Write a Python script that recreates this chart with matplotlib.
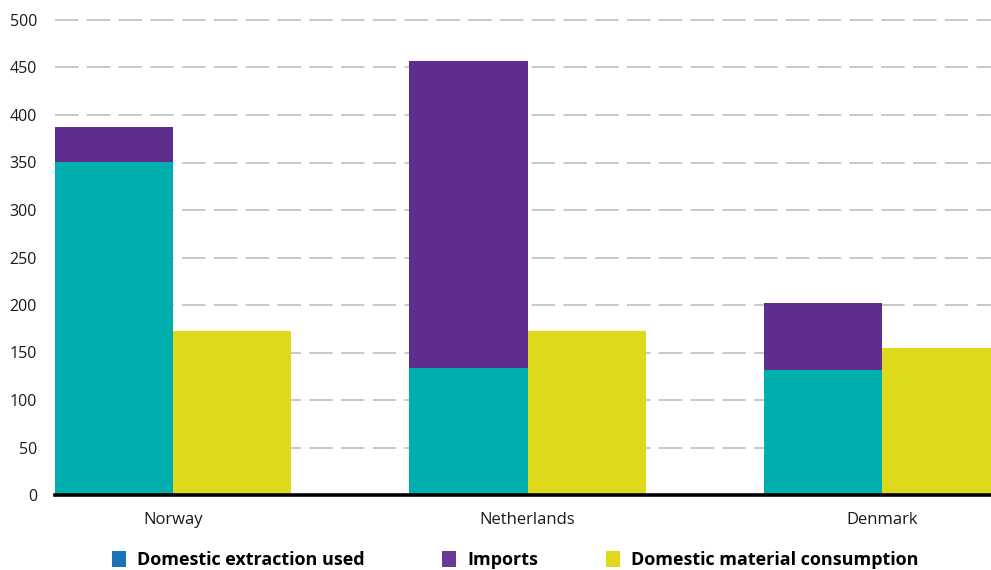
import matplotlib
matplotlib.use("Agg")
import matplotlib.pyplot as plt
from matplotlib.patches import Patch
import numpy as np

countries = ["Norway", "Netherlands", "Denmark"]
domestic_extraction = [351, 134, 132]
imports = [36, 323, 70]
dmc = [173, 173, 155]

yticks = [0, 50, 100, 150, 200, 250, 300, 350, 400, 450, 500]

teal = "#00AEAE"
purple = "#5F2D8E"
yellow = "#DFD91B"
legend_blue = "#1A73B8"
legend_purple = "#6A3A98"

plt.rcParams["font.family"] = ["Open Sans", "DejaVu Sans"]

W, H = 991, 570
fig = plt.figure(figsize=(W / 100, H / 100), dpi=100)
ax_left, ax_right = 55 / W, 1000 / W
ax_bottom, ax_top = (H - 495) / H, (H - 20) / H
ax = fig.add_axes([ax_left, ax_bottom, ax_right - ax_left, ax_top - ax_bottom])

x = np.arange(len(countries))
width = 0.333

ax.bar(x - width / 2, domestic_extraction, width, color=teal, zorder=3, linewidth=0)
ax.bar(x - width / 2, imports, width, bottom=domestic_extraction, color=purple,
       zorder=3, linewidth=0)
ax.bar(x + width / 2, dmc, width, color=yellow, zorder=3, linewidth=0)

ax.set_xlim(-width, len(countries) - 1 + width)
ax.set_ylim(0, 500)
ax.set_yticks(yticks)
ax.set_yticklabels([str(v) for v in yticks], fontsize=11.5, color="#1a1a1a")
ax.set_xticks(x)
ax.set_xticklabels(countries, fontsize=12, color="#1a1a1a")
ax.tick_params(axis="both", length=0)
ax.tick_params(axis="y", pad=13)
ax.tick_params(axis="x", pad=12)

for v in yticks[1:]:
    ax.axhline(v, color="#c4c4c4", lw=1.3, dashes=(13, 4.6), zorder=1, clip_on=False)

for s in ["top", "right", "left"]:
    ax.spines[s].set_visible(False)
ax.spines["bottom"].set_color("black")
ax.spines["bottom"].set_linewidth(2.6)
ax.spines["bottom"].set_zorder(4)

# Legend entries, each placed on its own along the bottom row
legend_items = [
    ("Domestic extraction used", legend_blue, 112),
    ("Imports", legend_purple, 442),
    ("Domestic material consumption", yellow, 606),
]
for label, color, left_px in legend_items:
    fig.legend(handles=[Patch(facecolor=color, label=label)], loc="center left",
               bbox_to_anchor=(left_px / W, 1 - 560 / H), frameon=False,
               borderpad=0, borderaxespad=0,
               handlelength=0.75, handleheight=0.95, handletextpad=0.65,
               prop={"weight": "bold", "size": 13, "stretch": "condensed"})

fig.savefig("out.png", dpi=100)
